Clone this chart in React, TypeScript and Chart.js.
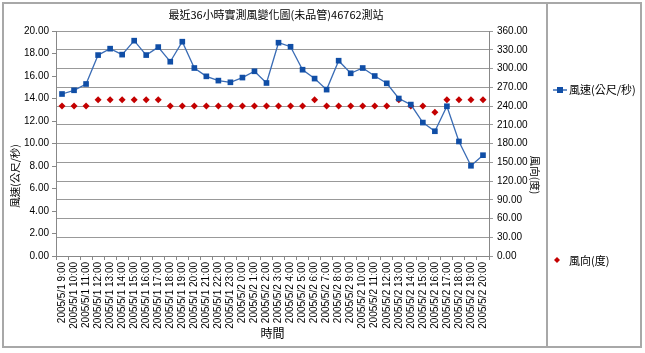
import React, { useEffect, useRef } from 'react';
import { Chart, registerables } from 'chart.js';

Chart.register(...registerables);

const chartTitle = '最近36小時實測風變化圖(未品管)46762測站';
const speedName = '風速(公尺/秒)';
const dirName = '風向(度)';
const xTitle = '時間';

const timeLabels = [
  '2005/5/1 9:00', '2005/5/1 10:00', '2005/5/1 11:00', '2005/5/1 12:00',
  '2005/5/1 13:00', '2005/5/1 14:00', '2005/5/1 15:00', '2005/5/1 16:00',
  '2005/5/1 17:00', '2005/5/1 18:00', '2005/5/1 19:00', '2005/5/1 20:00',
  '2005/5/1 21:00', '2005/5/1 22:00', '2005/5/1 23:00', '2005/5/2 0:00',
  '2005/5/2 1:00', '2005/5/2 2:00', '2005/5/2 3:00', '2005/5/2 4:00',
  '2005/5/2 5:00', '2005/5/2 6:00', '2005/5/2 7:00', '2005/5/2 8:00',
  '2005/5/2 9:00', '2005/5/2 10:00', '2005/5/2 11:00', '2005/5/2 12:00',
  '2005/5/2 13:00', '2005/5/2 14:00', '2005/5/2 15:00', '2005/5/2 16:00',
  '2005/5/2 17:00', '2005/5/2 18:00', '2005/5/2 19:00', '2005/5/2 20:00',
];

const windSpeed = [
  14.4, 14.73, 15.29, 17.86, 18.43, 17.9, 19.14, 17.86, 18.57, 17.27,
  19.05, 16.71, 15.97, 15.59, 15.44, 15.86, 16.42, 15.38, 18.96, 18.6,
  16.56, 15.77, 14.79, 17.36, 16.24, 16.71, 16.0, 15.35, 14.0, 13.46,
  11.86, 11.09, 13.31, 10.18, 8.02, 8.96,
];

const windDir = [
  240, 240, 240, 250, 250, 250, 250, 250, 250, 240,
  240, 240, 240, 240, 240, 240, 240, 240, 240, 240,
  240, 250, 240, 240, 240, 240, 240, 240, 250, 240,
  240, 230, 250, 250, 250, 250,
];

const speedMin = 0;
const speedMax = 20;
const speedStep = 2;
const dirMin = 0;
const dirMax = 360;
const dirStep = 30;

const CJK = '"Noto Sans CJK TC", "Noto Sans", sans-serif';
const LAT = '"Liberation Sans", Arial, sans-serif';
const BLUE_LINE = '#3a6cb5';
const BLUE_MARK = '#104ea6';
const RED = '#c40000';
const GRID = '#999999';
const FRAME = '#a8a8a8';

const decorPlugin = {
  id: 'decor',
  beforeDraw(chart: any) {
    const ctx = chart.ctx;
    ctx.save();
    ctx.fillStyle = '#ffffff';
    ctx.fillRect(0, 0, chart.width, chart.height);
    ctx.restore();
  },
  afterDraw(chart: any) {
    const ctx = chart.ctx;
    ctx.save();
    // outer frame and legend divider
    ctx.strokeStyle = FRAME;
    ctx.lineWidth = 2;
    ctx.strokeRect(3, 3, 638, 344);
    ctx.beginPath();
    ctx.moveTo(547, 3);
    ctx.lineTo(547, 347);
    ctx.stroke();

    // title
    ctx.fillStyle = '#000';
    ctx.font = `11px ${CJK}`;
    ctx.textAlign = 'center';
    ctx.textBaseline = 'middle';
    ctx.fillText(chartTitle, 276, 15);

    // y axis titles
    ctx.font = `10.5px ${CJK}`;
    ctx.save();
    ctx.translate(15, 176);
    ctx.rotate(-Math.PI / 2);
    ctx.fillText(speedName, 0, 0);
    ctx.restore();
    ctx.save();
    ctx.translate(535, 175);
    ctx.rotate(Math.PI / 2);
    ctx.fillText(dirName, 0, 0);
    ctx.restore();

    // legend
    ctx.strokeStyle = BLUE_LINE;
    ctx.lineWidth = 1.5;
    ctx.beginPath();
    ctx.moveTo(553, 90);
    ctx.lineTo(567, 90);
    ctx.stroke();
    ctx.fillStyle = BLUE_MARK;
    ctx.fillRect(557, 87, 6, 6);
    ctx.fillStyle = RED;
    ctx.beginPath();
    ctx.moveTo(557, 257);
    ctx.lineTo(560, 260);
    ctx.lineTo(557, 263);
    ctx.lineTo(554, 260);
    ctx.closePath();
    ctx.fill();
    ctx.fillStyle = '#000';
    ctx.textAlign = 'left';
    ctx.font = `11px ${CJK}`;
    ctx.fillText(speedName, 569, 90);
    ctx.fillText(dirName, 569, 261);
    ctx.restore();
  },
};

export default function App() {
  const ref = useRef<HTMLCanvasElement | null>(null);

  useEffect(() => {
    if (!ref.current) return;
    const chart = new Chart(ref.current, {
      type: 'line',
      data: {
        labels: timeLabels,
        datasets: [
          {
            label: speedName,
            data: windSpeed,
            yAxisID: 'y',
            borderColor: BLUE_LINE,
            borderWidth: 1.3,
            backgroundColor: BLUE_MARK,
            pointBackgroundColor: BLUE_MARK,
            pointBorderColor: BLUE_MARK,
            pointStyle: 'rect',
            pointRadius: 4,
            pointBorderWidth: 0,
            tension: 0,
          },
          {
            label: dirName,
            data: windDir,
            yAxisID: 'y1',
            showLine: false,
            borderColor: RED,
            backgroundColor: RED,
            pointBackgroundColor: RED,
            pointBorderColor: RED,
            pointStyle: 'rectRot',
            pointRadius: 3.5,
            pointBorderWidth: 0,
          },
        ],
      },
      options: {
        responsive: false,
        animation: false,
        devicePixelRatio: 1,
        layout: { padding: { top: 31, left: 0, right: 96, bottom: 12 } },
        plugins: {
          legend: { display: false },
          title: { display: false },
          tooltip: { enabled: false },
        },
        scales: {
          x: {
            type: 'category',
            offset: true,
            grid: {
              offset: true,
              drawOnChartArea: false,
              drawTicks: true,
              tickLength: 4,
              color: '#888',
            },
            border: { display: true, color: '#888', width: 1 },
            ticks: {
              autoSkip: false,
              minRotation: 90,
              maxRotation: 90,
              padding: 2,
              color: '#000',
              font: { size: 10, family: LAT },
            },
            title: {
              display: true,
              text: xTitle,
              color: '#000',
              font: { size: 12, family: CJK },
              padding: { top: 0, bottom: 0 },
            },
            afterFit: (s: any) => {
              s.height = 85;
            },
          },
          y: {
            position: 'left',
            min: speedMin,
            max: speedMax,
            grid: { drawOnChartArea: false, drawTicks: true, tickLength: 4, color: '#888' },
            border: { display: true, color: '#888', width: 1 },
            ticks: {
              stepSize: speedStep,
              padding: 3,
              color: '#000',
              font: { size: 10, family: LAT },
              callback: (v: any) => Number(v).toFixed(2),
            },
            afterFit: (s: any) => {
              s.width = 56;
            },
          },
          y1: {
            position: 'right',
            min: dirMin,
            max: dirMax,
            grid: { drawOnChartArea: true, drawTicks: true, tickLength: 4, color: GRID },
            border: { display: true, color: '#888', width: 1 },
            ticks: {
              stepSize: dirStep,
              padding: 4,
              color: '#000',
              font: { size: 10, family: LAT },
              callback: (v: any) => Number(v).toFixed(2),
            },
            afterFit: (s: any) => {
              s.width = 60;
            },
          },
        },
      },
      plugins: [decorPlugin],
    } as any);
    return () => chart.destroy();
  }, []);

  return (
    <div style={{ position: 'absolute', left: 0, top: 0, width: 645, height: 353, background: '#fff' }}>
      <canvas ref={ref} width={645} height={353} style={{ display: 'block' }} />
    </div>
  );
}
